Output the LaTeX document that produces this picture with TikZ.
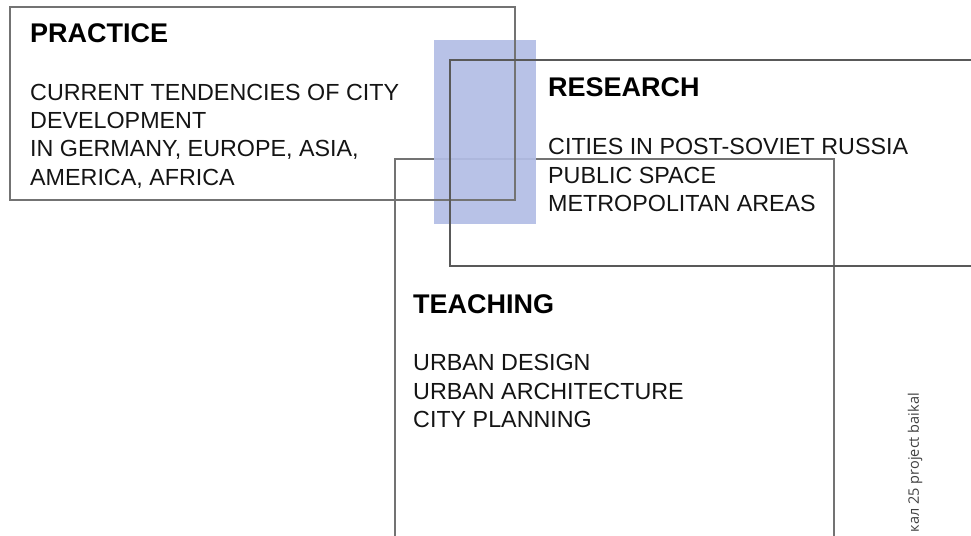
\documentclass[tikz,border=0pt]{standalone}
\usepackage{fontspec}
\setmainfont{Liberation Sans}
\newfontfamily\notefont{Open Sans}
\definecolor{bluebox}{RGB}{178,189,230}
\definecolor{linegray}{RGB}{100,100,100}
\tikzset{
  framebox/.style={draw=linegray, line width=1.4pt},
  title/.style={anchor=base west, inner sep=0pt, font=\fontsize{27}{32}\selectfont\bfseries, text=black},
  body/.style={anchor=north west, inner sep=0pt, align=left, font=\fontsize{23.3}{28.2}\selectfont, text=black!92},
}
\begin{document}
\begin{tikzpicture}[x=1pt,y=-1pt]
\useasboundingbox (0,0) rectangle (971,535);
\clip (0,0) rectangle (971,535);
\fill[white] (0,0) rectangle (971,535);
% teaching box
\draw[framebox, line width=1.2pt, draw=black!55] (395,159) rectangle (834,560);
% blue block
\fill[bluebox, opacity=0.92] (434,40) rectangle (536,224);
% practice box
\draw[framebox, draw=black!55] (10,7) rectangle (515,200);
% research box
\draw[framebox, line width=1.8pt, draw=black!65] (450,60) rectangle (1000,266);
% texts
\node[title] (pt) at (30,43) {PRACTICE};
\node[body] (pb) at (30,84) {CURRENT TENDENCIES OF CITY\\DEVELOPMENT\\IN GERMANY, EUROPE, ASIA,\\AMERICA, AFRICA};
\node[title] (rt) at (548,96.7) {RESEARCH};
\node[body] (rb) at (548,138.5) {CITIES IN POST-SOVIET RUSSIA\\PUBLIC SPACE\\METROPOLITAN AREAS};
\node[title] (tt) at (413,313) {TEACHING};
\node[body] (tb) at (413,354.5) {URBAN DESIGN\\URBAN ARCHITECTURE\\CITY PLANNING};
\node[rotate=90, anchor=east, inner sep=0pt, font=\notefont\fontsize{14.5}{17}\selectfont, text=black!75] (note) at (915,393) {кал 25 project baikal};
\end{tikzpicture}
\end{document}
